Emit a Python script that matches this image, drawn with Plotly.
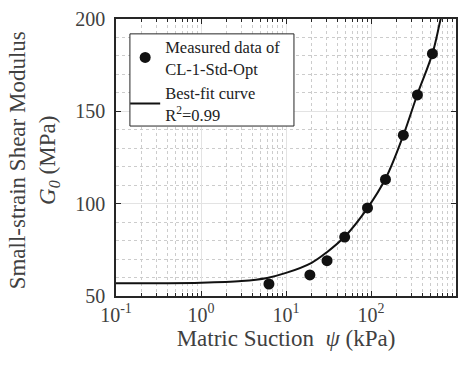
import plotly.graph_objects as go

# Measured data
psi_meas = [6.3, 19.1, 30.4, 49, 91, 148, 240, 352, 528]
g_meas = [56.5, 61.4, 69.1, 81.9, 97.7, 113.1, 137.1, 158.9, 181.2]

# Best-fit curve
psi_fit = [0.1, 1, 3, 6, 10, 20, 30, 50, 90, 150, 240, 350, 530, 660, 800]
g_fit = [56.9, 57.2, 58.1, 59.8, 62.5, 68, 73.6, 82.5, 97.3, 114, 137, 159, 181.5, 200, 215]

x_tickvals = [0.1, 1, 10, 100, 1000]
x_ticktext = ["10<sup>-1</sup>", "10<sup>0</sup>", "10<sup>1</sup>", "10<sup>2</sup>", "10<sup>3</sup>"]
x_minor = [m * d for d in [0.1, 1, 10, 100] for m in range(2, 10)]
y_tickvals = [50, 100, 150, 200]
y_minor = [60, 70, 80, 90, 110, 120, 130, 140, 160, 170, 180, 190]

FONT = "Times New Roman, Liberation Serif, serif"
AX = "#262626"
TXT = "#404040"

fig = go.Figure()
fig.add_trace(go.Scatter(
    x=psi_meas, y=g_meas, mode="markers",
    marker=dict(size=11, color="#111111"),
    name="Measured data of<br>CL-1-Std-Opt",
))
fig.add_trace(go.Scatter(
    x=psi_fit, y=g_fit, mode="lines", line=dict(color="#111111", width=2, shape="spline"),
    name="Best-fit curve<br>R<sup>2</sup>=0.99",
))

fig.update_layout(
    width=466, height=366,
    margin=dict(l=116, r=8, t=16, b=70),
    plot_bgcolor="white", paper_bgcolor="white",
    font=dict(family=FONT, size=20, color=TXT),
    showlegend=True,
    legend=dict(
        x=0.027, y=0.962, xanchor="left", yanchor="top",
        bgcolor="rgba(0,0,0,0)", borderwidth=0,
        font=dict(family=FONT, size=16.5, color="#222222"),
        tracegroupgap=0, itemwidth=30,
    ),
    xaxis=dict(
        type="log", range=[-1, 3],
        tickvals=x_tickvals, ticktext=x_ticktext,
        tickfont=dict(size=20),
        showline=True, linecolor=AX, linewidth=1.5, mirror="ticks",
        ticks="inside", ticklen=5, tickcolor=AX,
        showgrid=True, gridcolor="#e3e3e3", gridwidth=1,
        minor=dict(tickvals=x_minor, ticks="inside", ticklen=3, tickcolor=AX, showgrid=True,
                   gridcolor="#cccccc", griddash="dot", gridwidth=1),
        zeroline=False,
        title=dict(text="Matric Suction  <i>ψ</i> (kPa)", font=dict(size=23, color=TXT), standoff=4),
    ),
    yaxis=dict(
        range=[50, 200],
        tickvals=y_tickvals,
        tickfont=dict(size=20),
        ticklabelstandoff=5,
        showline=True, linecolor=AX, linewidth=1.5, mirror="ticks",
        ticks="inside", ticklen=5, tickcolor=AX,
        showgrid=True, gridcolor="#e3e3e3", gridwidth=1,
        minor=dict(tickvals=y_minor, ticks="", showgrid=True,
                   gridcolor="#cccccc", griddash="dot", gridwidth=1),
        zeroline=False,
    ),
)

# legend frame
fig.add_shape(
    type="rect", xref="paper", yref="paper",
    x0=(130 - 116) / 342, x1=(295 - 116) / 342,
    y0=(295.5 - 124) / 279.5, y1=(295.5 - 31) / 279.5,
    line=dict(color=AX, width=1), fillcolor="white", layer="above",
)

fig.add_annotation(
    xref="paper", yref="paper", x=-0.241, y=0.49, xanchor="center", yanchor="middle",
    textangle=-90, showarrow=False,
    text="Small-strain Shear Modulus<br><i>G</i><sub><i>0</i></sub> (MPa)",
    font=dict(family=FONT, size=23, color=TXT),
)

fig.write_html("out.html")
